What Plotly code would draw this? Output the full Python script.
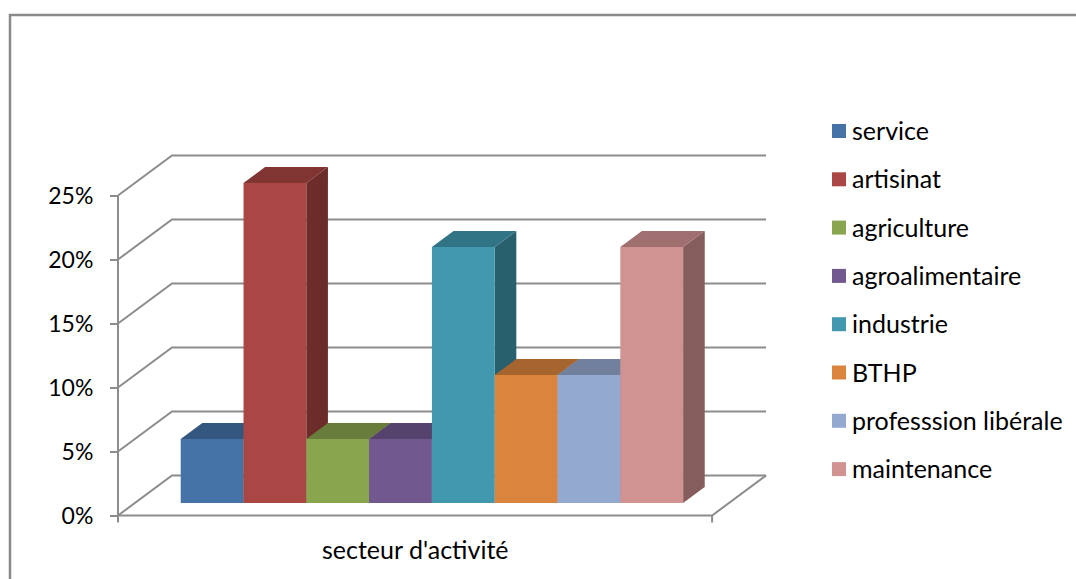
import plotly.graph_objects as go

# --- data -------------------------------------------------------------
categories = ["service", "artisinat", "agriculture", "agroalimentaire",
              "industrie", "BTHP", "professsion libérale", "maintenance"]
shares = [5, 25, 5, 5, 20, 10, 10, 20]          # percent
front_colors = ["#4572A7", "#AA4643", "#89A54E", "#71588F",
                "#4198AF", "#DB843D", "#93A9CF", "#D19392"]
y_ticks = [0, 5, 10, 15, 20, 25]
y_tick_labels = ["0%", "5%", "10%", "15%", "20%", "25%"]
axis_title = "secteur d'activité"

# --- geometry of the pseudo-3D box ---------------------------------------
W, H = 1076, 579
BAR_PX = 62.8            # pixels per category slot
PCT_PX = 12.8            # pixels per percentage point
ORIGIN_PX = (118, 515.5) # front-left floor corner in pixels
DEPTH_X = 54 / BAR_PX    # full box depth, in x units
DEPTH_Y = 40 / PCT_PX    # full box depth, in y units
GAP = 0.73               # empty space left/right of the bars (slots)
FLOOR_W = len(categories) + 2 * GAP
BAR_Z0, BAR_Z1 = 0.3125, 0.7125
GRID = "#8C8C8C"
FONT = "Lato, 'Open Sans', sans-serif"


def proj(u, v, z):
    """Oblique projection of (slot, percent, depth) into axis units."""
    return u + z * DEPTH_X, v + z * DEPTH_Y


def shade(hex_color, k):
    h = hex_color.lstrip("#")
    r, g, b = (int(h[i:i + 2], 16) for i in (0, 2, 4))
    return "#%02X%02X%02X" % (round(r * k), round(g * k), round(b * k))


def poly(points, color):
    xs, ys = zip(*[proj(*p) for p in points])
    return go.Scatter(x=list(xs) + [xs[0]], y=list(ys) + [ys[0]],
                      mode="lines", fill="toself", fillcolor=color,
                      line=dict(width=0, color=color),
                      hoverinfo="skip", showlegend=False)


def line(points, width=2):
    xs, ys = zip(*[proj(*p) for p in points])
    return go.Scatter(x=xs, y=ys, mode="lines",
                      line=dict(color=GRID, width=width),
                      hoverinfo="skip", showlegend=False)


fig = go.Figure()

# walls, floor and gridlines
for t in y_ticks:
    fig.add_trace(line([(0, t, 0), (0, t, 1), (FLOOR_W, t, 1)]))
fig.add_trace(line([(0, 0, 0), (FLOOR_W, 0, 0), (FLOOR_W, 0, 1)]))
fig.add_trace(line([(0, 0, 0), (0, y_ticks[-1], 0)]))
# category-axis end ticks
tick_down = 7 / PCT_PX
for u in (0, FLOOR_W):
    fig.add_trace(line([(u, 0, 0), (u, -tick_down, 0)]))

# columns, painted left to right
for i, (val, col) in enumerate(zip(shares, front_colors)):
    u0, u1 = GAP + i, GAP + i + 1
    fig.add_trace(poly([(u1, 0, BAR_Z0), (u1, 0, BAR_Z1),
                        (u1, val, BAR_Z1), (u1, val, BAR_Z0)], shade(col, 0.63)))
    fig.add_trace(poly([(u0, val, BAR_Z0), (u1, val, BAR_Z0),
                        (u1, val, BAR_Z1), (u0, val, BAR_Z1)], shade(col, 0.76)))
    fig.add_trace(poly([(u0, 0, BAR_Z0), (u1, 0, BAR_Z0),
                        (u1, val, BAR_Z0), (u0, val, BAR_Z0)], col))

# outer frame and legend
shapes = [dict(type="rect", xref="paper", yref="paper",
               x0=10 / W, x1=1.02, y0=-0.02, y1=1 - 15 / H,
               line=dict(color="#8A8A8A", width=2.5), fillcolor="rgba(0,0,0,0)")]
annotations = []
LEG_X, LEG_Y0, LEG_STEP, SQ = 832, 131, 48.3, 14
for k, (name, col) in enumerate(zip(categories, front_colors)):
    cy = LEG_Y0 + k * LEG_STEP
    shapes.append(dict(type="rect", xref="paper", yref="paper",
                       x0=LEG_X / W, x1=(LEG_X + SQ) / W,
                       y0=1 - (cy + SQ / 2) / H, y1=1 - (cy - SQ / 2) / H,
                       fillcolor=col, line=dict(width=0)))
    annotations.append(dict(text=name, xref="paper", yref="paper",
                            x=(LEG_X + 18) / W, y=1 - (cy - 1) / H,
                            xanchor="left", yanchor="middle", showarrow=False,
                            font=dict(family=FONT, size=25, color="#000")))

annotations.append(dict(text=axis_title, xref="x", yref="paper",
                        x=FLOOR_W / 2, y=1 - 549 / H,
                        xanchor="center", yanchor="middle", showarrow=False,
                        font=dict(family=FONT, size=25, color="#000")))

fig.update_layout(
    width=W, height=H, margin=dict(l=0, r=0, t=0, b=0),
    paper_bgcolor="white", plot_bgcolor="white",
    shapes=shapes, annotations=annotations, showlegend=False,
    xaxis=dict(range=[-ORIGIN_PX[0] / BAR_PX, (W - ORIGIN_PX[0]) / BAR_PX],
               visible=False, fixedrange=True),
    yaxis=dict(range=[-(H - ORIGIN_PX[1]) / PCT_PX, ORIGIN_PX[1] / PCT_PX],
               anchor="free", position=ORIGIN_PX[0] / W,
               tickmode="array", tickvals=y_ticks, ticktext=y_tick_labels,
               showgrid=False, zeroline=False, showline=False,
               ticks="outside", ticklen=8, tickwidth=2, tickcolor=GRID,
               ticklabelstandoff=12,
               tickfont=dict(family=FONT, size=23, color="#000"),
               fixedrange=True),
)

fig.write_html("out.html")
